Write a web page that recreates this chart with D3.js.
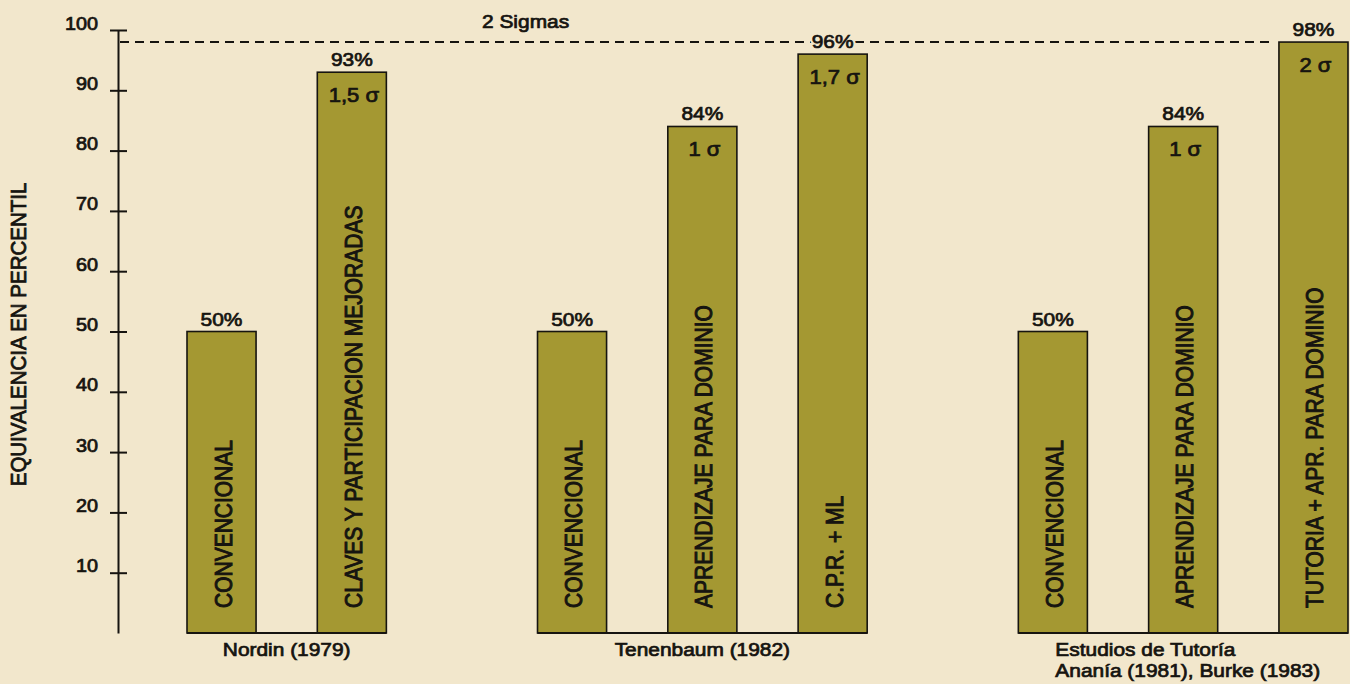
<!DOCTYPE html>
<html>
<head>
<meta charset="utf-8">
<script src="https://cdn.jsdelivr.net/npm/d3@7"></script>
<style>
  html, body { margin: 0; padding: 0; background: #f2e7cc; }
  svg { display: block; }
  text { font-family: "Liberation Sans", Arial, Helvetica, sans-serif; fill: #161410; stroke: #161410; stroke-width: 0.75px; }
</style>
</head>
<body>
<svg id="chart"></svg>
<script>
/* values */
const groupLabels = [
    ['Nordin (1979)'],
    ['Tenenbaum (1982)'],
    ['Estudios de Tutoría', 'Ananía (1981), Burke (1983)']
];
const barGroup = [0, 0, 1, 1, 1, 2, 2, 2];
const barNames = [
    'CONVENCIONAL', 'CLAVES Y PARTICIPACION MEJORADAS',
    'CONVENCIONAL', 'APRENDIZAJE PARA DOMINIO', 'C.P.R. + ML',
    'CONVENCIONAL', 'APRENDIZAJE PARA DOMINIO', 'TUTORIA + APR. PARA DOMINIO'
];
const percentiles = [50, 93, 50, 84, 96, 50, 84, 98];
const sigmaLabels = ['', '1,5 σ', '', '1 σ', '1,7 σ', '', '1 σ', '2 σ'];
const yTicks = [10, 20, 30, 40, 50, 60, 70, 80, 90, 100];
const twoSigma = 98;
const twoSigmaLabel = '2 Sigmas';
const yTitle = 'EQUIVALENCIA EN PERCENTIL';

/* layout */
let width = 1350;
let height = 684;
let groupGap = 0.69;   // extra space between groups, in bar steps
let barFrac = 0.53;    // bar width as part of a step
let stretch = 1.1;     // the printed type is a bit wide
let ink = '#161410';
let barFill = '#a49832';
let bg = '#f2e7cc';

let svg = d3.select('#chart').attr('width', width).attr('height', height);
svg.append('rect').attr('width', width).attr('height', height).attr('fill', bg);

/* slot index of every bar, groups pushed apart */
let slot = -1;
let bars = percentiles.map((v, i) => {
    slot += 1 + (i > 0 && barGroup[i] !== barGroup[i - 1] ? groupGap : 0);
    return { slot, value: v, name: barNames[i], sigma: sigmaLabels[i], group: barGroup[i] };
});

let x = d3.scaleLinear().domain([0, slot + barFrac]).range([187, 1348]);
let y = d3.scaleLinear().domain([0, 100]).range([633, 30]);
let bw = x(barFrac) - x(0);

/* y axis, ticks cross the line */
let yAxis = d3.axisLeft(y).tickValues(yTicks).tickSizeOuter(0).tickSize(0).tickPadding(0);
let axisG = svg.append('g')
    .attr('transform', 'translate(118,0)')
    .call(yAxis);
axisG.select('.domain').attr('stroke', ink).attr('stroke-width', 2);
axisG.selectAll('.tick line').remove();
axisG.selectAll('.tick').append('line')
    .attr('x1', -8).attr('x2', 9)
    .attr('stroke', ink).attr('stroke-width', 2);
axisG.selectAll('.tick text')
    .attr('x', null).attr('dy', null)
    .attr('transform', `translate(-20,-1) scale(${stretch},1)`)
    .attr('fill', null)
    .style('font-size', '18px');

svg.append('text')
    .attr('transform', `translate(26,${(y(0) + y(100)) / 2 + 3}) scale(${stretch},1) rotate(-90)`)
    .attr('text-anchor', 'middle')
    .style('font-size', '20.5px')
    .text(yTitle);

/* 2 sigma reference */
let lastBar = bars[bars.length - 1];
svg.append('line')
    .attr('x1', 120).attr('x2', x(lastBar.slot) - 8)
    .attr('y1', y(twoSigma)).attr('y2', y(twoSigma))
    .attr('stroke', ink).attr('stroke-width', 2)
    .attr('stroke-dasharray', '9,6');

svg.append('text')
    .attr('transform', `translate(482,28) scale(${stretch},1)`)
    .style('font-size', '19px')
    .text(twoSigmaLabel);

/* bars */
let barG = svg.append('g');
barG.selectAll('rect')
    .data(bars)
    .join('rect')
    .attr('x', d => x(d.slot))
    .attr('y', d => y(d.value))
    .attr('width', bw)
    .attr('height', d => y(0) - y(d.value))
    .attr('fill', barFill)
    .attr('stroke', ink)
    .attr('stroke-width', 1.6);

/* baseline under each group */
let groupExtent = groupLabels.map((g, gi) => {
    let gb = bars.filter(b => b.group === gi);
    return { left: x(gb[0].slot), right: x(gb[gb.length - 1].slot) + bw, lines: g };
});
svg.append('g').selectAll('line')
    .data(groupExtent)
    .join('line')
    .attr('x1', d => d.left).attr('x2', d => d.right)
    .attr('y1', y(0)).attr('y2', y(0))
    .attr('stroke', ink).attr('stroke-width', 2);

/* names written up the bars */
barG.selectAll('text.name')
    .data(bars)
    .join('text')
    .attr('class', 'name')
    .attr('transform', d => `translate(${x(d.slot) + bw / 2 + 10},${y(0) - 25}) scale(${stretch},1) rotate(-90)`)
    .style('font-size', '21px')
    .style('stroke-width', '0.9px')
    .text(d => d.name);

/* percent on top, with a halo so the dashed line breaks round it */
let pct = svg.append('g').selectAll('g')
    .data(bars)
    .join('g')
    .attr('transform', d => `translate(${x(d.slot) + bw / 2},${y(d.value) - 6}) scale(${stretch},1)`);
pct.append('text')
    .attr('text-anchor', 'middle')
    .style('font-size', '19px')
    .style('stroke', bg).style('stroke-width', '5px').style('fill', bg)
    .text(d => d.value + '%');
pct.append('text')
    .attr('text-anchor', 'middle')
    .style('font-size', '19px')
    .text(d => d.value + '%');

/* sigma inside the bar top */
svg.append('g').selectAll('text')
    .data(bars.filter(d => d.sigma))
    .join('text')
    .attr('transform', d => `translate(${x(d.slot) + bw / 2 + 2},${y(d.value) + 30}) scale(${stretch},1)`)
    .attr('text-anchor', 'middle')
    .style('font-size', '20px')
    .text(d => d.sigma);

/* group names under the baseline */
groupExtent.forEach(g => {
    let multi = g.lines.length > 1;
    let t = svg.append('text')
        .attr('transform', `translate(${multi ? g.left + 37 : (g.left + g.right) / 2},656) scale(${stretch},1)`)
        .attr('text-anchor', multi ? 'start' : 'middle')
        .style('font-size', '19px');
    g.lines.forEach((line, i) => {
        t.append('tspan').attr('x', 0).attr('dy', i ? 21.5 : 0).text(line);
    });
});
</script>
</body>
</html>
